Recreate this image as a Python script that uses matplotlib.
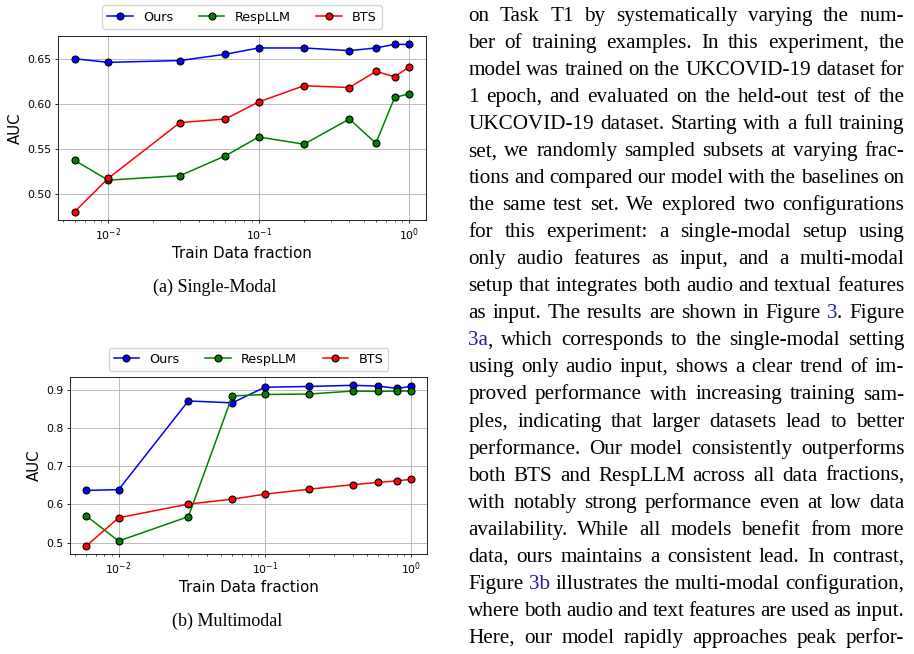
import re
import matplotlib.pyplot as plt
from matplotlib.ticker import MultipleLocator

# ---- data ----
fractions = [0.006, 0.01, 0.03, 0.06, 0.1, 0.2, 0.4, 0.6, 0.8, 1.0]

single_ours = [0.650, 0.646, 0.648, 0.655, 0.662, 0.662, 0.659, 0.662, 0.666, 0.666]
single_respllm = [0.537, 0.515, 0.520, 0.542, 0.563, 0.555, 0.583, 0.556, 0.607, 0.611]
single_bts = [0.480, 0.517, 0.579, 0.583, 0.602, 0.620, 0.618, 0.636, 0.630, 0.641]

multi_ours = [0.637, 0.639, 0.872, 0.867, 0.908, 0.910, 0.913, 0.911, 0.905, 0.910]
multi_respllm = [0.570, 0.504, 0.568, 0.885, 0.889, 0.890, 0.898, 0.897, 0.898, 0.898]
multi_bts = [0.491, 0.565, 0.601, 0.614, 0.627, 0.640, 0.652, 0.658, 0.662, 0.666]

series_names = ["Ours", "RespLLM", "BTS"]
series_colors = ["blue", "green", "red"]

captions = ["(a) Single-Modal", "(b) Multimodal"]

# {..} marks a link (blue) piece, always at the start of a word
body_lines = [
    "on Task T1 by systematically varying the num-",
    "ber of training examples. In this experiment, the",
    "model was trained on the UKCOVID-19 dataset for",
    "1 epoch, and evaluated on the held-out test of the",
    "UKCOVID-19 dataset. Starting with a full training",
    "set, we randomly sampled subsets at varying frac-",
    "tions and compared our model with the baselines on",
    "the same test set. We explored two configurations",
    "for this experiment: a single-modal setup using",
    "only audio features as input, and a multi-modal",
    "setup that integrates both audio and textual features",
    "as input. The results are shown in Figure {3}. Figure",
    "{3a}, which corresponds to the single-modal setting",
    "using only audio input, shows a clear trend of im-",
    "proved performance with increasing training sam-",
    "ples, indicating that larger datasets lead to better",
    "performance. Our model consistently outperforms",
    "both BTS and RespLLM across all data fractions,",
    "with notably strong performance even at low data",
    "availability. While all models benefit from more",
    "data, ours maintains a consistent lead. In contrast,",
    "Figure {3b} illustrates the multi-modal configuration,",
    "where both audio and text features are used as input.",
    "Here, our model rapidly approaches peak perfor-",
]

W, H = 914, 654
fig = plt.figure(figsize=(W / 100, H / 100), dpi=100)


def draw(rect, ours, resp, bts, legend_y, ystep):
    ax = fig.add_axes(rect)
    for vals, name, col in zip([ours, resp, bts], series_names, series_colors):
        ax.plot(fractions, vals, color=col, marker="o", mec="black", mew=0.8,
                ms=5.0, lw=1.1, label=name)
    ax.set_xscale("log")
    ax.yaxis.set_major_locator(MultipleLocator(ystep))
    ax.set_xlabel("Train Data fraction", fontsize=10.8, labelpad=2)
    ax.set_ylabel("AUC", fontsize=10.8, labelpad=3)
    ax.grid(True, color="#b0b0b0", lw=0.6)
    ax.tick_params(which="major", labelsize=7.8, length=2.5, width=0.6, pad=2)
    ax.tick_params(which="minor", length=1.4, width=0.45)
    for s in ax.spines.values():
        s.set_linewidth(0.6)
    ax.legend(ncol=3, loc="lower center", bbox_to_anchor=(0.5, legend_y),
              fontsize=9.2, borderaxespad=0, handlelength=2.0,
              columnspacing=2.0, framealpha=0.8, edgecolor="#cccccc")
    return ax


draw([58 / W, 1 - 220 / H, 368 / W, 184 / H], single_ours, single_respllm, single_bts, 1.04, 0.05)
draw([70 / W, 1 - 554 / H, 357 / W, 176.7 / H], multi_ours, multi_respllm, multi_bts, 1.036, 0.1)

serif = ["Liberation Serif", "DejaVu Serif"]
fig.text(215 / W, 1 - 287 / H, captions[0], family=serif, fontsize=13.0, ha="center", va="center")
fig.text(227 / W, 1 - 621 / H, captions[1], family=serif, fontsize=13.0, ha="center", va="center")

# ---- justified body text ----
left, right = 468.3, 904.3
base0, step = 20.8, 27.05
link_color = "#1f1f9f"
body_size = 15.2
renderer = fig.canvas.get_renderer()


def measure(txt):
    t = fig.text(0, 0, txt, family=serif, fontsize=body_size)
    wd = t.get_window_extent(renderer).width
    t.remove()
    return wd


for i, line in enumerate(body_lines):
    words = line.split(" ")
    parsed = []
    for w in words:
        m = re.match(r"\{([^}]*)\}(.*)", w)
        plain = w.replace("{", "").replace("}", "")
        if m:
            parsed.append((plain, m.group(1), m.group(2), measure(plain)))
        else:
            parsed.append((plain, None, "", measure(plain)))
    total = sum(p[3] for p in parsed)
    gap = (right - left - total) / max(len(words) - 1, 1)
    x = left
    y = 1 - (base0 + step * i) / H
    for plain, link, tail, wd in parsed:
        if link is None:
            fig.text(x / W, y, plain, family=serif, fontsize=body_size,
                     color="black", ha="left", va="baseline")
        else:
            fig.text(x / W, y, link, family=serif, fontsize=body_size,
                     color=link_color, ha="left", va="baseline")
            if tail:
                xt = x + wd - measure(tail) - 1
                fig.text(xt / W, y, tail, family=serif, fontsize=body_size,
                         color="black", ha="left", va="baseline")
        x += wd + gap

fig.savefig("out.png", dpi=100)
